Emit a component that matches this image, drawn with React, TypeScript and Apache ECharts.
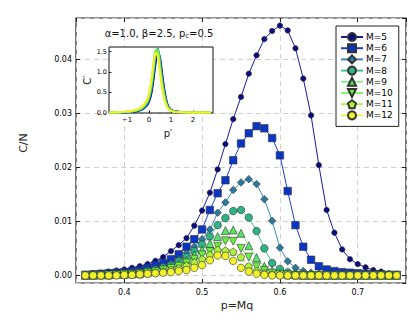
import React, { useEffect, useRef } from "react";
import * as echarts from "echarts";

const pValues = [0.35,0.36,0.37,0.38,0.39,0.40,0.41,0.42,0.43,0.44,0.45,0.46,0.47,0.48,0.49,0.50,0.51,0.52,0.53,0.54,0.55,0.56,0.57,0.58,0.59,0.60,0.61,0.62,0.63,0.64,0.65,0.66,0.67,0.68,0.69,0.70,0.71,0.72,0.73,0.74,0.75];

const m5 = [0.0003,0.0004,0.0005,0.0007,0.0009,0.0011,0.0014,0.0017,0.0021,0.0027,0.0034,0.0045,0.0056,0.0069,0.0092,0.0120,0.0153,0.0196,0.0243,0.0289,0.0330,0.0373,0.0407,0.0437,0.0452,0.0462,0.0453,0.0420,0.0364,0.0296,0.0204,0.0121,0.0079,0.0048,0.0030,0.0021,0.0015,0.0010,0.0007,0.0004,0.0003];
const m6 = [0.0001,0.0002,0.0003,0.0004,0.0005,0.0006,0.0008,0.0010,0.0014,0.0019,0.0023,0.0030,0.0039,0.0053,0.0067,0.0085,0.0121,0.0152,0.0176,0.0213,0.0244,0.0263,0.0276,0.0272,0.0254,0.0222,0.0156,0.0093,0.0053,0.0029,0.0017,0.0011,0.0008,0.0006,0.0005,0.0004,0.0003,0.0002,0.0002,0.0001,0.0001];
const m7 = [0.0001,0.0001,0.0002,0.0002,0.0003,0.0004,0.0005,0.0007,0.0010,0.0013,0.0017,0.0022,0.0030,0.0041,0.0053,0.0067,0.0085,0.0116,0.0135,0.0158,0.0172,0.0178,0.0169,0.0141,0.0101,0.0051,0.0026,0.0014,0.0008,0.0005,0.0003,0.0002,0.0002,0.0001,0.0001,0.0001,0.0001,0.0001,0.0001,0.0001,0.0001];
const m8 = [0.0000,0.0001,0.0001,0.0001,0.0002,0.0003,0.0004,0.0005,0.0008,0.0011,0.0015,0.0019,0.0026,0.0034,0.0045,0.0057,0.0072,0.0093,0.0106,0.0119,0.0121,0.0107,0.0082,0.0050,0.0023,0.0012,0.0006,0.0003,0.0002,0.0001,0.0001,0.0001,0.0000,0.0000,0.0000,0.0000,0.0000,0.0000,0.0000,0.0000,0.0000];
const m9 = [0.0000,0.0000,0.0001,0.0001,0.0002,0.0002,0.0003,0.0004,0.0006,0.0009,0.0012,0.0016,0.0021,0.0028,0.0038,0.0047,0.0059,0.0072,0.0083,0.0084,0.0078,0.0055,0.0033,0.0017,0.0009,0.0004,0.0002,0.0001,0.0000,0.0000,0.0000,0.0000,0.0000,0.0000,0.0000,0.0000,0.0000,0.0000,0.0000,0.0000,0.0000];
const m10 = [0.0000,0.0000,0.0000,0.0001,0.0001,0.0002,0.0002,0.0003,0.0005,0.0007,0.0010,0.0013,0.0017,0.0023,0.0030,0.0038,0.0044,0.0054,0.0064,0.0063,0.0050,0.0034,0.0016,0.0009,0.0004,0.0002,0.0001,0.0000,0.0000,0.0000,0.0000,0.0000,0.0000,0.0000,0.0000,0.0000,0.0000,0.0000,0.0000,0.0000,0.0000];
const m11 = [0.0000,0.0000,0.0000,0.0000,0.0001,0.0001,0.0002,0.0002,0.0004,0.0005,0.0007,0.0010,0.0013,0.0018,0.0024,0.0030,0.0038,0.0047,0.0046,0.0044,0.0034,0.0017,0.0008,0.0004,0.0002,0.0001,0.0000,0.0000,0.0000,0.0000,0.0000,0.0000,0.0000,0.0000,0.0000,0.0000,0.0000,0.0000,0.0000,0.0000,0.0000];
const m12 = [0.0000,0.0000,0.0000,0.0000,0.0000,0.0001,0.0001,0.0002,0.0003,0.0004,0.0005,0.0006,0.0008,0.0010,0.0014,0.0019,0.0028,0.0037,0.0036,0.0027,0.0014,0.0007,0.0003,0.0001,0.0000,0.0000,0.0000,0.0000,0.0000,0.0000,0.0000,0.0000,0.0000,0.0000,0.0000,0.0000,0.0000,0.0000,0.0000,0.0000,0.0000];

const seriesNames = ["M=5","M=6","M=7","M=8","M=9","M=10","M=11","M=12"];
const mainValues = [m5, m6, m7, m8, m9, m10, m11, m12];

const pPrime = [-1.8,-1.4,-1.0,-0.7,-0.5,-0.3,-0.1,0.0,0.1,0.2,0.3,0.4,0.5,0.6,0.7,0.8,0.9,1.1,1.5,2.0,2.8];
const c5 = [0.00,0.00,0.01,0.02,0.04,0.08,0.17,0.27,0.45,0.80,1.22,1.48,1.35,0.95,0.55,0.28,0.13,0.04,0.01,0.00,0.00];
const c6 = [0.00,0.00,0.01,0.02,0.05,0.09,0.19,0.30,0.50,0.87,1.30,1.52,1.30,0.88,0.50,0.25,0.12,0.04,0.01,0.00,0.00];
const c7 = [0.00,0.00,0.01,0.03,0.05,0.10,0.21,0.33,0.56,0.95,1.40,1.56,1.25,0.82,0.46,0.23,0.11,0.03,0.01,0.00,0.00];
const c8 = [0.00,0.00,0.02,0.03,0.06,0.11,0.23,0.36,0.61,1.02,1.48,1.58,1.20,0.76,0.42,0.21,0.10,0.03,0.01,0.00,0.00];
const c9 = [0.00,0.00,0.02,0.04,0.07,0.12,0.25,0.39,0.66,1.08,1.52,1.55,1.14,0.71,0.39,0.19,0.09,0.03,0.01,0.00,0.00];
const c10 = [0.00,0.01,0.02,0.04,0.07,0.13,0.27,0.42,0.70,1.12,1.52,1.50,1.08,0.67,0.36,0.18,0.09,0.03,0.01,0.00,0.00];
const c11 = [0.00,0.01,0.02,0.05,0.08,0.14,0.29,0.44,0.74,1.15,1.50,1.44,1.03,0.63,0.34,0.17,0.08,0.03,0.01,0.00,0.00];
const c12 = [0.00,0.01,0.03,0.05,0.09,0.16,0.31,0.47,0.78,1.18,1.47,1.38,0.98,0.59,0.32,0.16,0.08,0.02,0.01,0.00,0.00];
const insetValues = [c5, c6, c7, c8, c9, c10, c11, c12];

const insetXTicks = [-1, 0, 1, 2];
const insetYTicks = [0, 0.5, 1.0, 1.5];

const colors = ["#0b0b82", "#0a36c6", "#2a7aa0", "#2fb384", "#58e266", "#6cf040", "#aef03c", "#f2f228"];
const lineColors = ["#1a1aa0", "#1a40d0", "#3a8ab0", "#40c090", "#90ee98", "#90f070", "#b0ee50", "#eeee50"];
const symbols = ["circle", "rect", "diamond", "circle", "triangle", "triangle", "path://M0,-10 L9.51,-3.09 L5.88,8.09 L-5.88,8.09 L-9.51,-3.09 Z", "circle"];
const symbolSizes = [5.5, 7.5, 7.5, 7.5, 8, 8, 7.5, 7.5];
const symbolRotates = [0, 0, 0, 0, 0, 180, 0, 0];

const FONT = "DejaVu Sans";

export default function App() {
  const ref = useRef<HTMLDivElement>(null);
  useEffect(() => {
    document.body.style.margin = "0";
    const chart = echarts.init(ref.current!, null, { renderer: "svg" });
    const mainSeries = mainValues.map((vals, i) => ({
      name: seriesNames[i],
      type: "line",
      xAxisIndex: 0,
      yAxisIndex: 0,
      data: pValues.map((p, j) => [p, vals[j]]),
      symbol: symbols[i],
      symbolSize: symbolSizes[i],
      symbolRotate: symbolRotates[i],
      showSymbol: true,
      showAllSymbol: true,
      lineStyle: { color: lineColors[i], width: 1 },
      itemStyle: { color: colors[i], borderColor: "#333", borderWidth: 0.6 },
      z: 2 + i,
    }));
    const insetSeries = insetValues.map((vals, i) => ({
      name: "inset" + seriesNames[i],
      type: "line",
      xAxisIndex: 2,
      yAxisIndex: 2,
      data: pPrime.map((p, j) => [p, vals[j]]),
      showSymbol: false,
      smooth: 0.3,
      lineStyle: { color: colors[i], width: 2 },
      itemStyle: { color: colors[i] },
      z: 20 + i,
    }));
    const labelStyle = { fontFamily: FONT, fontSize: 8, color: "#000" };
    const baseGraphics: any[] = [
      { id: "xname", type: "text", x: 237, y: 305, style: { text: "p=Mq", font: `11px "${FONT}"`, fill: "#222", align: "center", verticalAlign: "middle" }, z: 50 },
      { id: "yname", type: "text", x: 23, y: 143, rotation: Math.PI / 2, style: { text: "C/N", font: `11px "${FONT}"`, fill: "#222", align: "center", verticalAlign: "middle" }, z: 50 },
      { id: "iyname", type: "text", x: 87, y: 80, rotation: Math.PI / 2, style: { text: "C\u2032", font: `10px "${FONT}"`, fill: "#222", align: "center", verticalAlign: "middle" }, z: 50 },
      { id: "ixname", type: "text", x: 168, y: 133, style: { text: "p\u2032", font: `10px "${FONT}"`, fill: "#222", align: "center", verticalAlign: "middle" }, z: 50 },
      {
        id: "ititle", type: "text", x: 159, y: 33, z: 50,
        style: {
          text: "{a|\u03b1=1.0, \u03b2=2.5, p}{s|c}{a|=0.5}",
          align: "center", verticalAlign: "middle",
          rich: {
            a: { fontFamily: FONT, fontSize: 10, fill: "#111" },
            s: { fontFamily: FONT, fontSize: 7, fill: "#111", padding: [6, 0, 0, 0] },
          },
        },
      },
    ];
    chart.setOption({
      animation: false,
      backgroundColor: "#fff",
      grid: [
        { left: 76, top: 18, width: 330, height: 265, show: true, borderColor: "#222", borderWidth: 1.2, backgroundColor: "transparent" },
        { left: 109, top: 47, width: 104, height: 66, show: true, borderColor: "#111", borderWidth: 1, backgroundColor: "#fff", z: 10 },
      ],
      legend: {
        data: seriesNames,
        left: 336,
        top: 26,
        orient: "vertical",
        itemWidth: 22,
        itemHeight: 10,
        itemGap: 1.2,
        padding: [6, 6, 6, 4],
        borderColor: "#222",
        borderWidth: 1,
        backgroundColor: "#fff",
        textStyle: { fontFamily: FONT, fontSize: 9, color: "#000", padding: [0, 0, 0, -2] },
        z: 30,
      },
      xAxis: [
        {
          type: "value", gridIndex: 0, min: 0.338, max: 0.762, splitNumber: 4,
          axisLine: { show: false, onZero: false },
          axisTick: { inside: true, length: 4, lineStyle: { color: "#222" } },
          axisLabel: { ...labelStyle, showMinLabel: false, showMaxLabel: false, margin: 5, formatter: (v: number) => v.toFixed(1) },
          splitLine: { show: true, lineStyle: { color: "#d0d0d0", type: [5, 4], width: 1 } },
        },
        {
          type: "value", gridIndex: 0, position: "top", min: 0.338, max: 0.762, splitNumber: 4,
          axisLine: { show: false, onZero: false },
          axisTick: { inside: true, length: 4, lineStyle: { color: "#222" } },
          axisLabel: { show: false },
          splitLine: { show: false },
        },
        {
          type: "value", gridIndex: 1, min: -1.82, max: 2.91,
          axisLine: { show: false, onZero: false },
          axisTick: { inside: true, length: 2.5, lineStyle: { color: "#222" }, customValues: insetXTicks },
          axisLabel: { show: false },
          splitLine: { show: false },
          z: 10,
        },
      ],
      yAxis: [
        {
          type: "value", gridIndex: 0, min: -0.0014, max: 0.0476, splitNumber: 5,
          axisLine: { show: false, onZero: false },
          axisTick: { inside: true, length: 4, lineStyle: { color: "#222" } },
          axisLabel: { ...labelStyle, showMinLabel: false, showMaxLabel: false, margin: 4, formatter: (v: number) => v.toFixed(2) },
          splitLine: { show: true, lineStyle: { color: "#d0d0d0", type: [5, 4], width: 1 } },
        },
        {
          type: "value", gridIndex: 0, position: "right", min: -0.0014, max: 0.0476, splitNumber: 5,
          axisLine: { show: false, onZero: false },
          axisTick: { inside: true, length: 4, lineStyle: { color: "#222" } },
          axisLabel: { show: false },
          splitLine: { show: false },
        },
        {
          type: "value", gridIndex: 1, min: -0.01, max: 1.615,
          axisLine: { show: false, onZero: false },
          axisTick: { inside: true, length: 2.5, lineStyle: { color: "#222" }, customValues: insetYTicks },
          axisLabel: { show: false },
          splitLine: { show: false },
          z: 10,
        },
      ],
      graphic: baseGraphics,
      series: [...mainSeries, ...insetSeries],
    });
    // Inset tick labels placed through the inset axes' own scales
    const tickGraphics: any[] = [];
    const bottomY = chart.convertToPixel({ yAxisIndex: 2 }, -0.01) as number;
    const leftX = chart.convertToPixel({ xAxisIndex: 2 }, -1.82) as number;
    insetXTicks.forEach((v, k) => {
      const px = chart.convertToPixel({ xAxisIndex: 2 }, v) as number;
      tickGraphics.push({
        id: "ixt" + k, type: "text", x: px, y: bottomY + 3, z: 50,
        style: { text: v < 0 ? "\u2212" + Math.abs(v) : String(v), font: `7px "${FONT}"`, fill: "#000", align: "center", verticalAlign: "top" },
      });
    });
    insetYTicks.forEach((v, k) => {
      const py = chart.convertToPixel({ yAxisIndex: 2 }, v) as number;
      tickGraphics.push({
        id: "iyt" + k, type: "text", x: leftX - 2, y: py, z: 50,
        style: { text: v.toFixed(1), font: `6.5px "${FONT}"`, fill: "#000", align: "right", verticalAlign: "middle" },
      });
    });
    chart.setOption({ graphic: [...baseGraphics, ...tickGraphics] });
    return () => chart.dispose();
  }, []);
  return <div ref={ref} style={{ position: "absolute", left: 0, top: 0, width: 415, height: 326 }} />;
}
